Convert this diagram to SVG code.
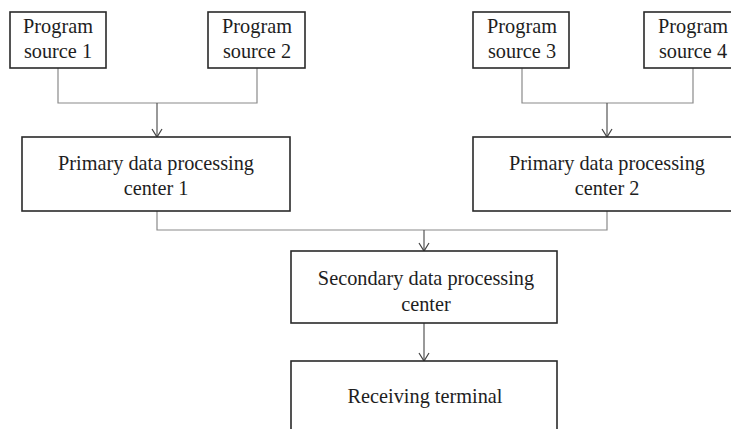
<svg xmlns="http://www.w3.org/2000/svg" width="731" height="429" viewBox="0 0 731 429">
<style>
.box{fill:#fff;stroke:#2a2a2a;stroke-width:1.6}
.t{font-family:"Liberation Serif","Times New Roman",serif;font-size:20.3px;fill:#1e1e1e;text-anchor:middle}
.c{fill:none;stroke:#8a8a8a;stroke-width:1.2}
.a{fill:none;stroke:#555;stroke-width:1.2}
</style>
<defs>
<marker id="arr" viewBox="-10 -7 12 14" refX="0" refY="0" markerWidth="12" markerHeight="14" markerUnits="userSpaceOnUse" orient="auto">
<path d="M-8,-5 L0,0 L-8,5" fill="none" stroke="#444" stroke-width="1.2"/>
</marker>
</defs>
<rect width="731" height="429" fill="#fff"/>
<g id="connectors">
<path class="c" d="M58,68 V103 H257 V68"/>
<path class="a" d="M157,103 V137" marker-end="url(#arr)"/>
<path class="c" d="M522,68 V103 H693 V68"/>
<path class="a" d="M607,103 V137" marker-end="url(#arr)"/>
<path class="c" d="M157,211 V230 H607 V211"/>
<path class="a" d="M424,230 V251" marker-end="url(#arr)"/>
<path class="a" d="M424,323 V361" marker-end="url(#arr)"/>
</g>
<g id="ps1"><rect class="box" x="10" y="12" width="96" height="56"/><text class="t" x="58" y="33">Program</text><text class="t" x="58" y="58">source 1</text></g>
<g id="ps2"><rect class="box" x="208" y="12" width="97" height="56"/><text class="t" x="257" y="33">Program</text><text class="t" x="257" y="58">source 2</text></g>
<g id="ps3"><rect class="box" x="473" y="12" width="96" height="56"/><text class="t" x="522" y="33">Program</text><text class="t" x="522" y="58">source 3</text></g>
<g id="ps4"><rect class="box" x="644" y="12" width="97" height="56"/><text class="t" x="693" y="33">Program</text><text class="t" x="693" y="58">source 4</text></g>
<g id="pc1"><rect class="box" x="22" y="137" width="268" height="74"/><text class="t" x="156" y="170">Primary data processing</text><text class="t" x="156" y="195">center 1</text></g>
<g id="pc2"><rect class="box" x="473" y="137" width="272" height="74"/><text class="t" x="607" y="170">Primary data processing</text><text class="t" x="607" y="195">center 2</text></g>
<g id="sc"><rect class="box" x="291" y="251" width="266" height="72"/><text class="t" x="426" y="285">Secondary data processing</text><text class="t" x="426" y="311">center</text></g>
<g id="rt"><rect class="box" x="291" y="361" width="266" height="80"/><text class="t" x="425" y="403">Receiving terminal</text></g>
</svg>
